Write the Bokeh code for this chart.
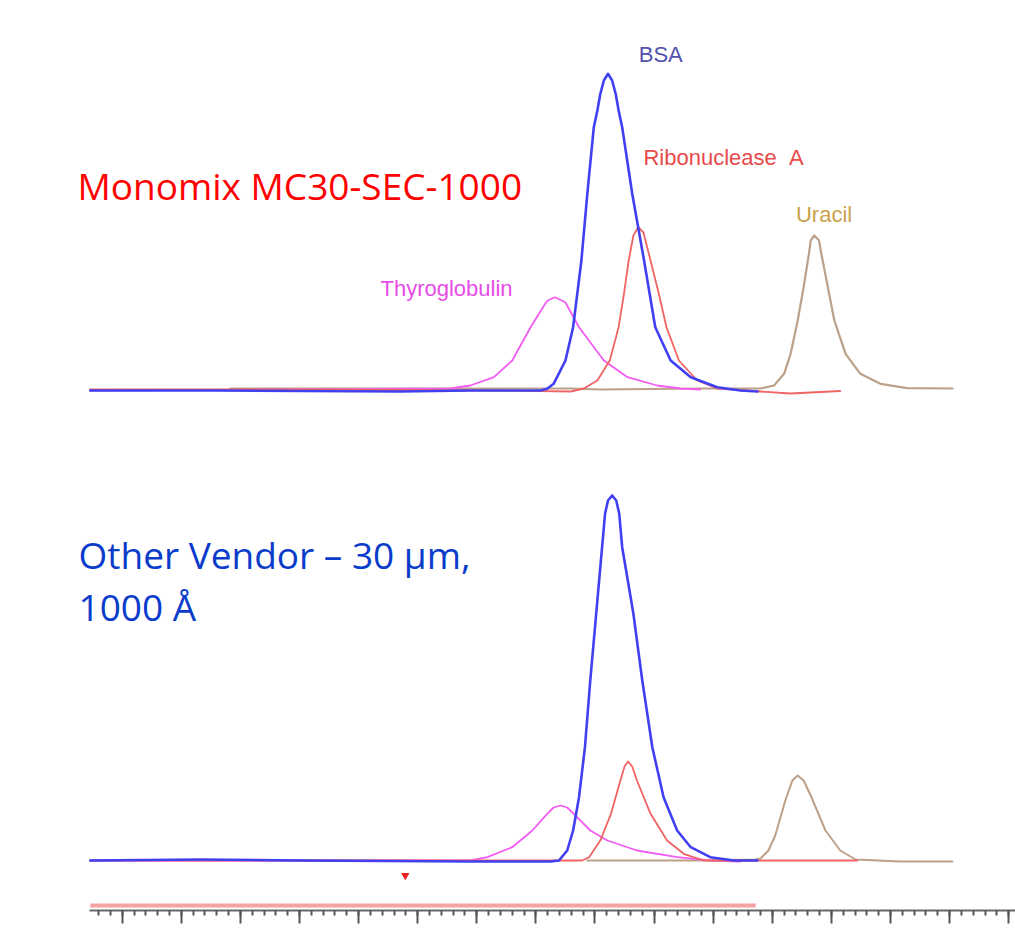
from bokeh.plotting import figure
from bokeh.models import Range1d, Label, SingleIntervalTicker
from bokeh.layouts import column
from bokeh.embed import file_html
from bokeh.resources import INLINE

# ---------------- data (time in min, signal in mAU) ----------------
# Monomix MC30-SEC-1000 (top)
top_bsa_t = [-0.54, 1.60, 4.70, 5.89, 7.08, 7.19, 7.30, 7.50, 7.63, 7.77, 7.87, 7.98, 8.04, 8.09, 8.15, 8.22, 8.29, 8.35, 8.40, 8.46, 8.63, 8.83, 9.02, 9.28, 9.62, 10.07, 10.46, 10.75]
top_bsa_s = [-1, -1, -2, -1, -1, 0.7, 5.7, 29, 62.3, 129, 195.7, 262.3, 279, 295.7, 309, 315.7, 309, 295.7, 279, 262.3, 195.7, 129, 62.3, 29, 12.3, 2.3, -1, -2]

top_thy_t = [-0.54, 3.02, 5.55, 5.89, 6.29, 6.60, 6.91, 7.16, 7.20, 7.32, 7.44, 7.50, 7.73, 8.15, 8.55, 9.05, 9.45, 9.78]
top_thy_s = [-1, 0, 1, 4, 12.3, 29, 62.3, 86, 89, 92.3, 89, 87, 62.3, 29, 12.3, 4, 1, 0]

top_rib_t = [-0.54, 3.02, 6.40, 7.59, 7.81, 8.04, 8.25, 8.40, 8.49, 8.57, 8.65, 8.73, 8.82, 8.94, 9.08, 9.21, 9.42, 9.73, 10.07, 10.80, 11.31, 11.65, 12.15]
top_rib_s = [0, 0, -1, -2, 1, 9, 29, 62.3, 95.7, 129, 154, 162.3, 157, 129, 95.7, 62.3, 29, 9, 1, -2, -4, -3, -1.5]

top_ura_t = [1.83, 6.40, 7.59, 8.09, 9.79, 10.80, 11.03, 11.20, 11.31, 11.43, 11.53, 11.62, 11.65, 11.71, 11.79, 11.83, 11.94, 12.05, 12.24, 12.49, 12.83, 13.28, 14.05]
top_ura_s = [1, 1, 1, 0, 1, 1, 4, 15.7, 35.7, 69, 102.3, 135.7, 149, 154, 149, 135.7, 102.3, 69, 35.7, 15.7, 5.7, 1.3, 1]

# Other vendor - 30 um, 1000 A (bottom)
bot_bsa_t = [-0.54, 1.33, 3.02, 5.89, 7.25, 7.39, 7.53, 7.63, 7.73, 7.83, 7.92, 8.02, 8.12, 8.17, 8.22, 8.29, 8.36, 8.41, 8.46, 8.65, 8.80, 8.97, 9.16, 9.39, 9.62, 9.95, 10.35, 10.75]
bot_bsa_s = [0, 1, 0, -1, -1, 0, 10, 30, 63.3, 113.3, 180, 246.7, 313.3, 346.7, 360, 365, 360, 346.7, 313.3, 246.7, 180, 113.3, 63.3, 30, 13.3, 3.3, 0, 0]

bot_rib_t = [-0.54, 5.89, 7.59, 7.78, 7.90, 8.09, 8.27, 8.43, 8.50, 8.56, 8.63, 8.71, 8.94, 9.22, 9.50, 9.84, 10.80, 12.44]
bot_rib_s = [0, 0, 0, 0, 3.3, 20, 46.7, 80, 94, 99, 94, 80, 46.7, 20, 6.7, 0, 0, 0]

bot_thy_t = [-0.54, 5.55, 5.89, 6.18, 6.60, 6.94, 7.19, 7.30, 7.42, 7.53, 7.64, 7.92, 8.21, 8.71, 9.39, 9.95, 10.46]
bot_thy_s = [0, 0, 0, 3.3, 13.3, 30, 46.7, 53, 55, 53, 46.7, 30, 20, 10, 3.3, 0, -1]

bot_ura_t = [7.87, 9.79, 10.71, 10.80, 10.935, 11.05, 11.22, 11.34, 11.43, 11.53, 11.65, 11.90, 12.15, 12.41, 13.17, 14.05]
bot_ura_s = [0, 0, 1, 2, 10, 25, 60, 80, 85, 80, 65, 30, 10, 1, -1, -1]

peak_names = ["BSA", "Ribonuclease\u00a0\u00a0A", "Uracil", "Thyroglobulin"]
peak_label_t = [8.74, 8.82, 11.40, 4.37]
peak_label_s = [335, 232, 175, 101]

run_bar_t = [-0.54, 10.72]
inject_t = [4.79]

# ---------------- styles ----------------
C_BSA = "#4040f2"
C_THY = "#f25cf2"
C_RIB = "#f06464"
C_URA = "#bca088"
label_colors = ["#5252b0", "#e84a4a", "#c9a24a", "#e64ce6"]

X_RANGE = (-2.059, 15.115)


def base_fig(height, y0, y1, with_axis):
    p = figure(width=1015, height=height, output_backend="svg", toolbar_location=None,
               x_range=Range1d(*X_RANGE), y_range=Range1d(y0, y1),
               x_axis_location="below" if with_axis else None, y_axis_location=None,
               min_border=0, min_border_left=0, min_border_right=0, min_border_top=0,
               min_border_bottom=20 if with_axis else 0)
    p.grid.visible = False
    p.outline_line_color = None
    p.background_fill_color = "white"
    p.border_fill_color = "white"
    return p


def trace(p, t, s, color, w):
    p.line(t, s, line_color=color, line_width=w, line_join="round", line_cap="round")


# ---------- top figure ----------
p1 = base_fig(448, -59, 389, False)
trace(p1, top_ura_t, top_ura_s, C_URA, 2.2)
trace(p1, top_thy_t, top_thy_s, C_THY, 1.8)
trace(p1, top_rib_t, top_rib_s, C_RIB, 1.8)
trace(p1, top_bsa_t, top_bsa_s, C_BSA, 2.6)

for name, t, s, c in zip(peak_names, peak_label_t, peak_label_s, label_colors):
    p1.add_layout(Label(x=t, y=s, text=name, text_color=c, text_font="Liberation Sans",
                        text_font_size="22px", text_baseline="alphabetic", text_align="left"))

p1.add_layout(Label(x=-0.756, y=204, text="Monomix MC30-SEC-1000", text_color="#ff0000",
                    text_font="Open Sans", text_font_size="37px",
                    text_baseline="alphabetic", text_align="left"))

# ---------- bottom figure ----------
p2 = base_fig(482, -50, 412, True)
p2.line(run_bar_t, [-45, -45], line_color="#f4a2a2", line_width=4)
p2.scatter(inject_t, [-15], marker="inverted_triangle", size=7, fill_color="#ee2222", line_color="#ee2222")
trace(p2, bot_ura_t, bot_ura_s, C_URA, 2.0)
trace(p2, bot_thy_t, bot_thy_s, C_THY, 1.8)
trace(p2, bot_rib_t, bot_rib_s, C_RIB, 1.8)
trace(p2, bot_bsa_t, bot_bsa_s, C_BSA, 2.6)

p2.add_layout(Label(x=-0.739, y=306, text="Other Vendor \u2013 30 \u03bcm,", text_color="#0a3ccc",
                    text_font="Open Sans", text_font_size="37px",
                    text_baseline="alphabetic", text_align="left"))
p2.add_layout(Label(x=-0.739, y=254, text="1000 \u00c5", text_color="#0a3ccc",
                    text_font="Open Sans", text_font_size="37px",
                    text_baseline="alphabetic", text_align="left"))

ax = p2.xaxis[0]
ax.ticker = SingleIntervalTicker(interval=1, num_minor_ticks=5)
ax.bounds = (-0.553, 15.115)
ax.axis_line_color = "#666666"
ax.axis_line_width = 2
ax.major_tick_line_color = "#555555"
ax.major_tick_line_width = 2
ax.major_tick_in = 0
ax.major_tick_out = 13
ax.minor_tick_line_color = "#555555"
ax.minor_tick_line_width = 2
ax.minor_tick_in = 0
ax.minor_tick_out = 5
ax.major_label_text_font_size = "0px"
ax.major_label_standoff = 0
ax.major_label_text_color = None

layout = column(p1, p2, spacing=0)
open("out.html", "w").write(file_html(layout, INLINE))
